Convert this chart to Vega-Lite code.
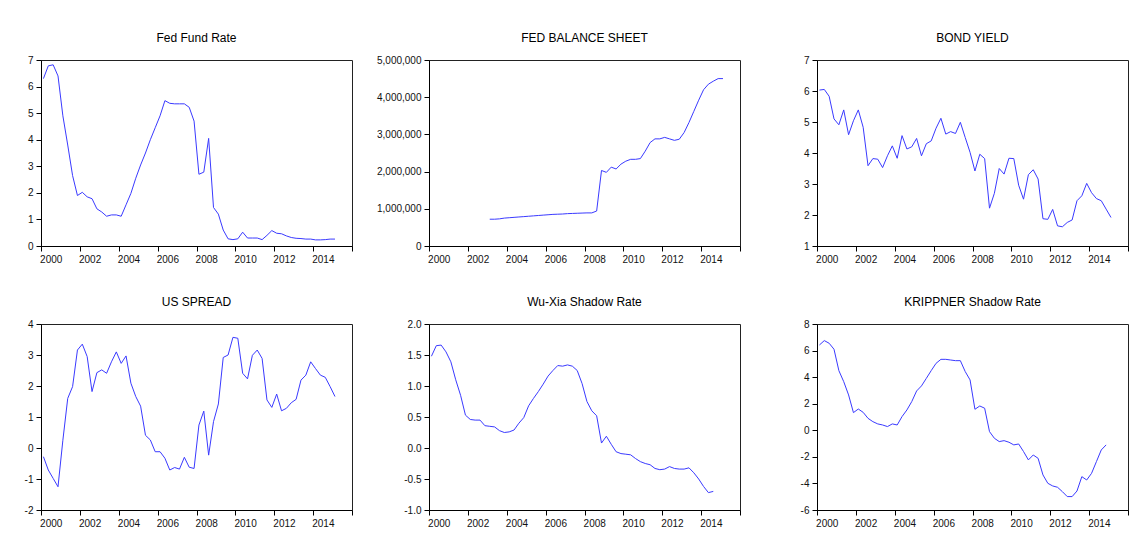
{
  "$schema": "https://vega.github.io/schema/vega-lite/v6.json",
  "background": "white",
  "padding": {"left": 23, "top": 31, "right": 0, "bottom": 0},
  "bounds": "flush",
  "columns": 3,
  "spacing": {"row": 78, "column": 77},
  "config": {
    "font": "Liberation Sans",
    "view": {"stroke": "#222", "strokeWidth": 1},
    "axis": {"labelFont": "Liberation Sans", "labelFontSize": 10, "labelColor": "#111", "domainColor": "#000", "tickColor": "#000", "grid": false, "title": null, "tickSize": 5, "labelPadding": 3, "labelOverlap": false},
    "axisX": {"labelFlush": false, "labelOffset": 9.7, "values": [2000,2001,2002,2003,2004,2005,2006,2007,2008,2009,2010,2011,2012,2013,2014,2015,2016], "labelExpr": "datum.value % 2 == 0 && datum.value < 2016 ? '' + datum.value : ''"},
    "title": {"fontSize": 12, "fontWeight": "normal", "font": "Liberation Sans", "color": "#000", "offset": 10},
    "line": {"color": "#3a3aff", "strokeWidth": 1}
  },
  "concat": [
    {
      "width": 311, "height": 186,
      "view": {"stroke": "#222", "strokeWidth": 1},
      "title": "Fed Fund Rate",
      "data": {"values": [
        {"t":2000.125,"v":6.3},{"t":2000.375,"v":6.78},{"t":2000.625,"v":6.82},{"t":2000.875,"v":6.4},
        {"t":2001.125,"v":4.9},{"t":2001.375,"v":3.8},{"t":2001.625,"v":2.65},{"t":2001.875,"v":1.9},
        {"t":2002.125,"v":2.02},{"t":2002.375,"v":1.85},{"t":2002.625,"v":1.78},{"t":2002.875,"v":1.4},
        {"t":2003.125,"v":1.28},{"t":2003.375,"v":1.12},{"t":2003.625,"v":1.17},{"t":2003.875,"v":1.17},
        {"t":2004.125,"v":1.12},{"t":2004.375,"v":1.55},{"t":2004.625,"v":1.98},{"t":2004.875,"v":2.55},
        {"t":2005.125,"v":3.05},{"t":2005.375,"v":3.5},{"t":2005.625,"v":4.0},{"t":2005.875,"v":4.45},
        {"t":2006.125,"v":4.9},{"t":2006.375,"v":5.47},{"t":2006.625,"v":5.37},{"t":2006.875,"v":5.35},
        {"t":2007.125,"v":5.35},{"t":2007.375,"v":5.35},{"t":2007.625,"v":5.22},{"t":2007.875,"v":4.7},
        {"t":2008.125,"v":2.7},{"t":2008.375,"v":2.78},{"t":2008.625,"v":4.05},{"t":2008.875,"v":1.45},
        {"t":2009.125,"v":1.2},{"t":2009.375,"v":0.6},{"t":2009.625,"v":0.27},{"t":2009.875,"v":0.24},
        {"t":2010.125,"v":0.27},{"t":2010.375,"v":0.52},{"t":2010.625,"v":0.3},{"t":2010.875,"v":0.3},
        {"t":2011.125,"v":0.3},{"t":2011.375,"v":0.24},{"t":2011.625,"v":0.4},{"t":2011.875,"v":0.58},
        {"t":2012.125,"v":0.48},{"t":2012.375,"v":0.46},{"t":2012.625,"v":0.38},{"t":2012.875,"v":0.32},
        {"t":2013.125,"v":0.29},{"t":2013.375,"v":0.28},{"t":2013.625,"v":0.26},{"t":2013.875,"v":0.26},
        {"t":2014.125,"v":0.23},{"t":2014.375,"v":0.23},{"t":2014.625,"v":0.24},{"t":2014.875,"v":0.26},
        {"t":2015.125,"v":0.26}
      ]},
      "mark": {"type": "line"},
      "encoding": {
        "x": {"field": "t", "type": "quantitative", "scale": {"domain": [2000, 2016], "nice": false, "zero": false}},
        "y": {"field": "v", "type": "quantitative", "scale": {"domain": [0, 7], "nice": false, "zero": false}, "axis": {"values": [0,1,2,3,4,5,6,7], "labelExpr": "'' + datum.value"}}
      }
    },
    {
      "width": 311, "height": 186,
      "view": {"stroke": "#222", "strokeWidth": 1},
      "title": "FED BALANCE SHEET",
      "data": {"values": [
        {"t":2003.125,"v":720000},{"t":2003.375,"v":720000},{"t":2003.625,"v":730000},{"t":2003.875,"v":750000},
        {"t":2004.125,"v":760000},{"t":2004.375,"v":770000},{"t":2004.625,"v":780000},{"t":2004.875,"v":790000},
        {"t":2005.125,"v":800000},{"t":2005.375,"v":810000},{"t":2005.625,"v":820000},{"t":2005.875,"v":830000},
        {"t":2006.125,"v":840000},{"t":2006.375,"v":850000},{"t":2006.625,"v":855000},{"t":2006.875,"v":860000},
        {"t":2007.125,"v":870000},{"t":2007.375,"v":875000},{"t":2007.625,"v":880000},{"t":2007.875,"v":885000},
        {"t":2008.125,"v":890000},{"t":2008.375,"v":890000},{"t":2008.625,"v":940000},{"t":2008.875,"v":2030000},
        {"t":2009.125,"v":1980000},{"t":2009.375,"v":2120000},{"t":2009.625,"v":2070000},{"t":2009.875,"v":2200000},
        {"t":2010.125,"v":2280000},{"t":2010.375,"v":2330000},{"t":2010.625,"v":2330000},{"t":2010.875,"v":2350000},
        {"t":2011.125,"v":2550000},{"t":2011.375,"v":2780000},{"t":2011.625,"v":2880000},{"t":2011.875,"v":2880000},
        {"t":2012.125,"v":2920000},{"t":2012.375,"v":2880000},{"t":2012.625,"v":2840000},{"t":2012.875,"v":2870000},
        {"t":2013.125,"v":3050000},{"t":2013.375,"v":3320000},{"t":2013.625,"v":3620000},{"t":2013.875,"v":3920000},
        {"t":2014.125,"v":4200000},{"t":2014.375,"v":4350000},{"t":2014.625,"v":4430000},{"t":2014.875,"v":4500000},
        {"t":2015.125,"v":4500000}
      ]},
      "mark": {"type": "line"},
      "encoding": {
        "x": {"field": "t", "type": "quantitative", "scale": {"domain": [2000, 2016], "nice": false, "zero": false}},
        "y": {"field": "v", "type": "quantitative", "scale": {"domain": [0, 5000000], "nice": false, "zero": false}, "axis": {"values": [0,1000000,2000000,3000000,4000000,5000000], "labelExpr": "format(datum.value, ',')"}}
      }
    },
    {
      "width": 311, "height": 186,
      "view": {"stroke": "#222", "strokeWidth": 1},
      "title": "BOND YIELD",
      "data": {"values": [
        {"t":2000.125,"v":6.03},{"t":2000.375,"v":6.05},{"t":2000.625,"v":5.83},{"t":2000.875,"v":5.1},
        {"t":2001.125,"v":4.91},{"t":2001.375,"v":5.39},{"t":2001.625,"v":4.59},{"t":2001.875,"v":5.04},
        {"t":2002.125,"v":5.39},{"t":2002.375,"v":4.83},{"t":2002.625,"v":3.59},{"t":2002.875,"v":3.82},
        {"t":2003.125,"v":3.8},{"t":2003.375,"v":3.53},{"t":2003.625,"v":3.91},{"t":2003.875,"v":4.23},
        {"t":2004.125,"v":3.83},{"t":2004.375,"v":4.56},{"t":2004.625,"v":4.13},{"t":2004.875,"v":4.2},
        {"t":2005.125,"v":4.47},{"t":2005.375,"v":3.91},{"t":2005.625,"v":4.3},{"t":2005.875,"v":4.39},
        {"t":2006.125,"v":4.8},{"t":2006.375,"v":5.12},{"t":2006.625,"v":4.61},{"t":2006.875,"v":4.69},
        {"t":2007.125,"v":4.63},{"t":2007.375,"v":4.99},{"t":2007.625,"v":4.5},{"t":2007.875,"v":4.02},
        {"t":2008.125,"v":3.42},{"t":2008.375,"v":3.96},{"t":2008.625,"v":3.82},{"t":2008.875,"v":2.22},
        {"t":2009.125,"v":2.7},{"t":2009.375,"v":3.5},{"t":2009.625,"v":3.32},{"t":2009.875,"v":3.83},
        {"t":2010.125,"v":3.82},{"t":2010.375,"v":2.96},{"t":2010.625,"v":2.51},{"t":2010.875,"v":3.3},
        {"t":2011.125,"v":3.46},{"t":2011.375,"v":3.16},{"t":2011.625,"v":1.88},{"t":2011.875,"v":1.86},
        {"t":2012.125,"v":2.18},{"t":2012.375,"v":1.65},{"t":2012.625,"v":1.62},{"t":2012.875,"v":1.76},
        {"t":2013.125,"v":1.84},{"t":2013.375,"v":2.46},{"t":2013.625,"v":2.62},{"t":2013.875,"v":3.02},
        {"t":2014.125,"v":2.72},{"t":2014.375,"v":2.53},{"t":2014.625,"v":2.46},{"t":2014.875,"v":2.19},
        {"t":2015.125,"v":1.92}
      ]},
      "mark": {"type": "line"},
      "encoding": {
        "x": {"field": "t", "type": "quantitative", "scale": {"domain": [2000, 2016], "nice": false, "zero": false}},
        "y": {"field": "v", "type": "quantitative", "scale": {"domain": [1, 7], "nice": false, "zero": false}, "axis": {"values": [1,2,3,4,5,6,7], "labelExpr": "'' + datum.value"}}
      }
    },
    {
      "width": 311, "height": 186,
      "view": {"stroke": "#222", "strokeWidth": 1},
      "title": "US SPREAD",
      "data": {"values": [
        {"t":2000.125,"v":-0.28},{"t":2000.375,"v":-0.71},{"t":2000.625,"v":-0.98},{"t":2000.875,"v":-1.25},
        {"t":2001.125,"v":0.25},{"t":2001.375,"v":1.6},{"t":2001.625,"v":1.98},{"t":2001.875,"v":3.16},
        {"t":2002.125,"v":3.35},{"t":2002.375,"v":2.95},{"t":2002.625,"v":1.82},{"t":2002.875,"v":2.43},
        {"t":2003.125,"v":2.52},{"t":2003.375,"v":2.41},{"t":2003.625,"v":2.78},{"t":2003.875,"v":3.1},
        {"t":2004.125,"v":2.73},{"t":2004.375,"v":2.97},{"t":2004.625,"v":2.09},{"t":2004.875,"v":1.66},
        {"t":2005.125,"v":1.35},{"t":2005.375,"v":0.41},{"t":2005.625,"v":0.26},{"t":2005.875,"v":-0.12},
        {"t":2006.125,"v":-0.12},{"t":2006.375,"v":-0.33},{"t":2006.625,"v":-0.71},{"t":2006.875,"v":-0.63},
        {"t":2007.125,"v":-0.68},{"t":2007.375,"v":-0.3},{"t":2007.625,"v":-0.62},{"t":2007.875,"v":-0.66},
        {"t":2008.125,"v":0.74},{"t":2008.375,"v":1.19},{"t":2008.625,"v":-0.23},{"t":2008.875,"v":0.85},
        {"t":2009.125,"v":1.42},{"t":2009.375,"v":2.92},{"t":2009.625,"v":3.0},{"t":2009.875,"v":3.57},
        {"t":2010.125,"v":3.54},{"t":2010.375,"v":2.41},{"t":2010.625,"v":2.23},{"t":2010.875,"v":2.99},
        {"t":2011.125,"v":3.16},{"t":2011.375,"v":2.89},{"t":2011.625,"v":1.55},{"t":2011.875,"v":1.31},
        {"t":2012.125,"v":1.74},{"t":2012.375,"v":1.2},{"t":2012.625,"v":1.28},{"t":2012.875,"v":1.46},
        {"t":2013.125,"v":1.57},{"t":2013.375,"v":2.19},{"t":2013.625,"v":2.35},{"t":2013.875,"v":2.78},
        {"t":2014.125,"v":2.56},{"t":2014.375,"v":2.35},{"t":2014.625,"v":2.28},{"t":2014.875,"v":1.98},
        {"t":2015.125,"v":1.66}
      ]},
      "mark": {"type": "line"},
      "encoding": {
        "x": {"field": "t", "type": "quantitative", "scale": {"domain": [2000, 2016], "nice": false, "zero": false}},
        "y": {"field": "v", "type": "quantitative", "scale": {"domain": [-2, 4], "nice": false, "zero": false}, "axis": {"values": [-2,-1,0,1,2,3,4], "labelExpr": "'' + datum.value"}}
      }
    },
    {
      "width": 311, "height": 186,
      "view": {"stroke": "#222", "strokeWidth": 1},
      "title": "Wu-Xia Shadow Rate",
      "data": {"values": [
        {"t":2000.125,"v":1.48},{"t":2000.375,"v":1.65},{"t":2000.625,"v":1.66},{"t":2000.875,"v":1.55},
        {"t":2001.125,"v":1.39},{"t":2001.375,"v":1.1},{"t":2001.625,"v":0.85},{"t":2001.875,"v":0.53},
        {"t":2002.125,"v":0.46},{"t":2002.375,"v":0.45},{"t":2002.625,"v":0.45},{"t":2002.875,"v":0.36},
        {"t":2003.125,"v":0.35},{"t":2003.375,"v":0.34},{"t":2003.625,"v":0.28},{"t":2003.875,"v":0.25},
        {"t":2004.125,"v":0.26},{"t":2004.375,"v":0.29},{"t":2004.625,"v":0.4},{"t":2004.875,"v":0.49},
        {"t":2005.125,"v":0.68},{"t":2005.375,"v":0.8},{"t":2005.625,"v":0.91},{"t":2005.875,"v":1.03},
        {"t":2006.125,"v":1.16},{"t":2006.375,"v":1.25},{"t":2006.625,"v":1.33},{"t":2006.875,"v":1.32},
        {"t":2007.125,"v":1.34},{"t":2007.375,"v":1.32},{"t":2007.625,"v":1.25},{"t":2007.875,"v":1.04},
        {"t":2008.125,"v":0.75},{"t":2008.375,"v":0.6},{"t":2008.625,"v":0.52},{"t":2008.875,"v":0.08},
        {"t":2009.125,"v":0.19},{"t":2009.375,"v":0.06},{"t":2009.625,"v":-0.06},{"t":2009.875,"v":-0.09},
        {"t":2010.125,"v":-0.1},{"t":2010.375,"v":-0.11},{"t":2010.625,"v":-0.17},{"t":2010.875,"v":-0.22},
        {"t":2011.125,"v":-0.25},{"t":2011.375,"v":-0.27},{"t":2011.625,"v":-0.33},{"t":2011.875,"v":-0.35},
        {"t":2012.125,"v":-0.34},{"t":2012.375,"v":-0.3},{"t":2012.625,"v":-0.33},{"t":2012.875,"v":-0.34},
        {"t":2013.125,"v":-0.34},{"t":2013.375,"v":-0.32},{"t":2013.625,"v":-0.4},{"t":2013.875,"v":-0.5},
        {"t":2014.125,"v":-0.62},{"t":2014.375,"v":-0.72},{"t":2014.625,"v":-0.7}
      ]},
      "mark": {"type": "line"},
      "encoding": {
        "x": {"field": "t", "type": "quantitative", "scale": {"domain": [2000, 2016], "nice": false, "zero": false}},
        "y": {"field": "v", "type": "quantitative", "scale": {"domain": [-1, 2], "nice": false, "zero": false}, "axis": {"values": [-1,-0.5,0,0.5,1,1.5,2], "labelExpr": "replace(format(datum.value, '.1f'), '−', '-')"}}
      }
    },
    {
      "width": 311, "height": 186,
      "view": {"stroke": "#222", "strokeWidth": 1},
      "title": "KRIPPNER Shadow Rate",
      "data": {"values": [
        {"t":2000.125,"v":6.42},{"t":2000.375,"v":6.75},{"t":2000.625,"v":6.55},{"t":2000.875,"v":6.1},
        {"t":2001.125,"v":4.49},{"t":2001.375,"v":3.66},{"t":2001.625,"v":2.66},{"t":2001.875,"v":1.33},
        {"t":2002.125,"v":1.6},{"t":2002.375,"v":1.35},{"t":2002.625,"v":0.9},{"t":2002.875,"v":0.65},
        {"t":2003.125,"v":0.48},{"t":2003.375,"v":0.4},{"t":2003.625,"v":0.28},{"t":2003.875,"v":0.48},
        {"t":2004.125,"v":0.4},{"t":2004.375,"v":1.03},{"t":2004.625,"v":1.53},{"t":2004.875,"v":2.16},
        {"t":2005.125,"v":2.96},{"t":2005.375,"v":3.34},{"t":2005.625,"v":3.91},{"t":2005.875,"v":4.49},
        {"t":2006.125,"v":5.04},{"t":2006.375,"v":5.34},{"t":2006.625,"v":5.34},{"t":2006.875,"v":5.29},
        {"t":2007.125,"v":5.24},{"t":2007.375,"v":5.24},{"t":2007.625,"v":4.42},{"t":2007.875,"v":3.79},
        {"t":2008.125,"v":1.58},{"t":2008.375,"v":1.83},{"t":2008.625,"v":1.66},{"t":2008.875,"v":-0.1},
        {"t":2009.125,"v":-0.6},{"t":2009.375,"v":-0.85},{"t":2009.625,"v":-0.78},{"t":2009.875,"v":-0.9},
        {"t":2010.125,"v":-1.1},{"t":2010.375,"v":-1.03},{"t":2010.625,"v":-1.6},{"t":2010.875,"v":-2.23},
        {"t":2011.125,"v":-1.86},{"t":2011.375,"v":-2.11},{"t":2011.625,"v":-3.36},{"t":2011.875,"v":-3.99},
        {"t":2012.125,"v":-4.19},{"t":2012.375,"v":-4.29},{"t":2012.625,"v":-4.62},{"t":2012.875,"v":-4.99},
        {"t":2013.125,"v":-4.99},{"t":2013.375,"v":-4.57},{"t":2013.625,"v":-3.49},{"t":2013.875,"v":-3.74},
        {"t":2014.125,"v":-3.24},{"t":2014.375,"v":-2.36},{"t":2014.625,"v":-1.48},{"t":2014.875,"v":-1.1}
      ]},
      "mark": {"type": "line"},
      "encoding": {
        "x": {"field": "t", "type": "quantitative", "scale": {"domain": [2000, 2016], "nice": false, "zero": false}},
        "y": {"field": "v", "type": "quantitative", "scale": {"domain": [-6, 8], "nice": false, "zero": false}, "axis": {"values": [-6,-4,-2,0,2,4,6,8], "labelExpr": "'' + datum.value"}}
      }
    }
  ]
}
